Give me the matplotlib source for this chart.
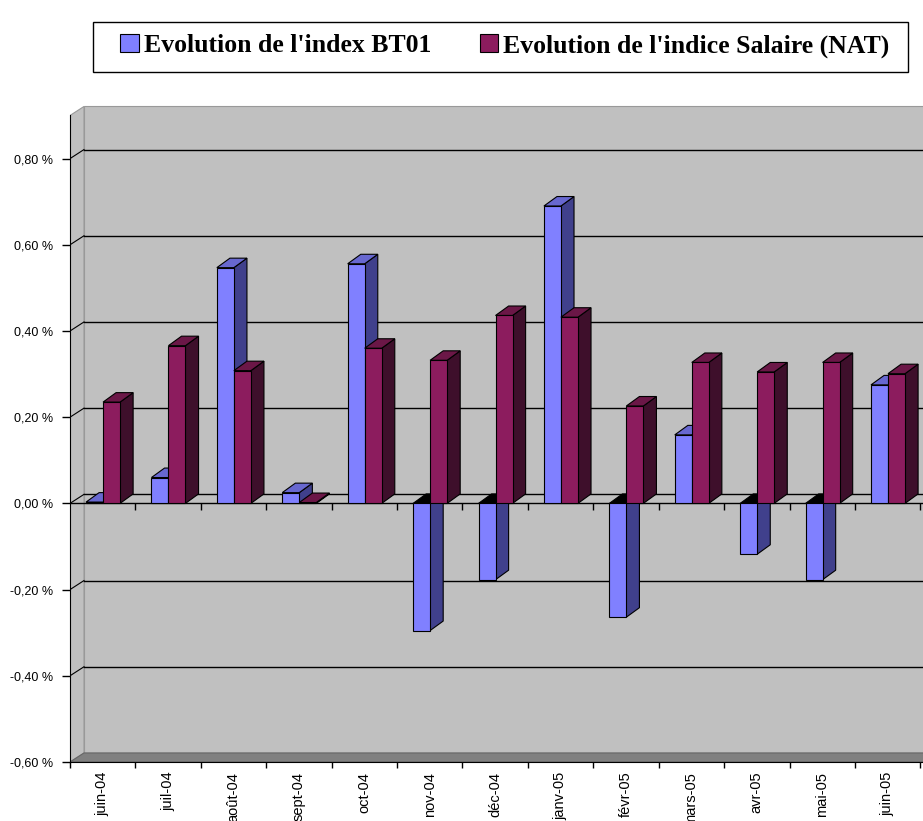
import numpy as np
import matplotlib.pyplot as plt
from matplotlib.patches import Polygon, Patch, Rectangle
from matplotlib.ticker import FuncFormatter

# data (monthly change, %)
months = ['juin-04', 'juil-04', 'août-04', 'sept-04', 'oct-04', 'nov-04', 'déc-04',
          'janv-05', 'févr-05', 'mars-05', 'avr-05', 'mai-05', 'juin-05']
bt01 = [0.003, 0.06, 0.547, 0.025, 0.556, -0.295, -0.177,
        0.69, -0.264, 0.159, -0.118, -0.177, 0.275]
salaire = [0.235, 0.366, 0.308, 0.002, 0.36, 0.332, 0.436,
           0.432, 0.226, 0.327, 0.305, 0.327, 0.301]
yticks = [-0.6, -0.4, -0.2, 0.0, 0.2, 0.4, 0.6, 0.8]

# look
blue = ('#8080ff', '#40408c', '#6868d0')    # front, side, top
plum = ('#8c1c5e', '#3e0f2b', '#6b1747')
wall_c = '#c0c0c0'
floor_c = '#808080'

# 3d offsets in data units
wdx, wdy = 0.214, 0.021     # walls
bdx, bdy = 0.2, 0.022       # bars
bw = 0.26                   # bar width
ymin, ytop = -0.6, 0.9
ncat = len(months)
xmax = 13.04

fig = plt.figure(figsize=(9.23, 8.21), dpi=100)
ax = fig.add_axes([70 / 923, 1 - 762 / 821, 853 / 923, 662 / 821])
ax.set_xlim(0, xmax)
ax.set_ylim(ymin, (762 - 100) / 431 + ymin)


def poly(pts, fc, ec='black', lw=0.8, z=2):
    ax.add_patch(Polygon(pts, closed=True, facecolor=fc, edgecolor=ec,
                         linewidth=lw, zorder=z, joinstyle='miter'))


# walls and floor
poly([(wdx, ymin + wdy), (xmax + 1, ymin + wdy), (xmax + 1, ytop + wdy), (wdx, ytop + wdy)],
     wall_c, ec='#999999', lw=0.8, z=0)
poly([(0, ymin), (wdx, ymin + wdy), (wdx, ytop + wdy), (0, ytop)], wall_c, ec='#999999', z=0.5)
poly([(0, ymin), (xmax + 1, ymin), (xmax + 1 + wdx, ymin + wdy), (wdx, ymin + wdy)],
     floor_c, ec='#666666', z=0.6)

# gridlines on back wall + left wall connectors
for v in yticks[1:]:
    ax.plot([wdx, xmax + 1], [v + wdy, v + wdy], color='black', lw=1.0, zorder=1)
    ax.plot([0, wdx], [v, v + wdy], color='black', lw=0.8, zorder=1)

# zero line with category ticks
bounds = np.arange(ncat + 1)
ax.plot([0, xmax], [0, 0], color='black', lw=1.0, zorder=1.5)
ax.plot(bounds[1:], np.zeros(ncat), ls='', marker=3, ms=5, mew=1.0, color='black', zorder=1.5)


def bar3d(x0, v, cols):
    front, side, top = cols
    if v >= 0:
        top_c = top
    else:
        top_c = 'black'
    # top face sits at max(v, 0)
    t = max(v, 0)
    poly([(x0 + bw, 0), (x0 + bw + bdx, bdy), (x0 + bw + bdx, v + bdy), (x0 + bw, v)], side)
    poly([(x0, t), (x0 + bdx, t + bdy), (x0 + bw + bdx, t + bdy), (x0 + bw, t)], top_c)
    poly([(x0, 0), (x0 + bw, 0), (x0 + bw, v), (x0, v)], front)


for i in range(ncat):
    bar3d(i + 0.245, bt01[i], blue)
    bar3d(i + 0.245 + bw, salaire[i], plum)

# axes
for s in ['top', 'right']:
    ax.spines[s].set_visible(False)
ax.spines['left'].set_bounds(ymin, ytop)
ax.spines['left'].set_zorder(5)
ax.spines['bottom'].set_zorder(5)
ax.set_yticks(yticks)
ax.yaxis.set_major_formatter(FuncFormatter(lambda v, p: ('%.2f %%' % v).replace('.', ',')))
ax.tick_params(axis='y', length=6, width=1, labelsize=9, pad=6)
ax.set_xticks(bounds)
ax.set_xticklabels([])
ax.set_xticks(np.arange(ncat) + 0.5, minor=True)
ax.set_xticklabels(months, minor=True, rotation=90, fontsize=10.5, va='top')
ax.tick_params(axis='x', which='major', length=4.5, width=1)
ax.tick_params(axis='x', which='minor', length=0, pad=7)
for lab in ax.get_yticklabels() + ax.get_xticklabels(minor=True):
    lab.set_family('Liberation Sans')

# legend: frame drawn separately so the box can be wider than its entries
fig.patches.append(Rectangle((93 / 923, 1 - 72 / 821), 815 / 923, 50 / 821,
                             transform=fig.transFigure, facecolor='white',
                             edgecolor='black', linewidth=1.0, zorder=0))
handles = [Patch(facecolor=blue[0], edgecolor='black', lw=0.8),
           Patch(facecolor=plum[0], edgecolor='black', lw=0.8)]
leg = fig.legend(handles, ["Evolution de l'index BT01", "Evolution de l'indice Salaire (NAT)"],
                 loc='upper left', bbox_to_anchor=(120 / 923, 1 - 34 / 821),
                 ncol=2, frameon=False, borderaxespad=0, borderpad=0, columnspacing=1.9,
                 handlelength=0.72, handleheight=0.72, handletextpad=0.2,
                 prop={'family': 'Liberation Serif', 'weight': 'bold', 'size': 18.5})

fig.savefig('out.png', dpi=100)
